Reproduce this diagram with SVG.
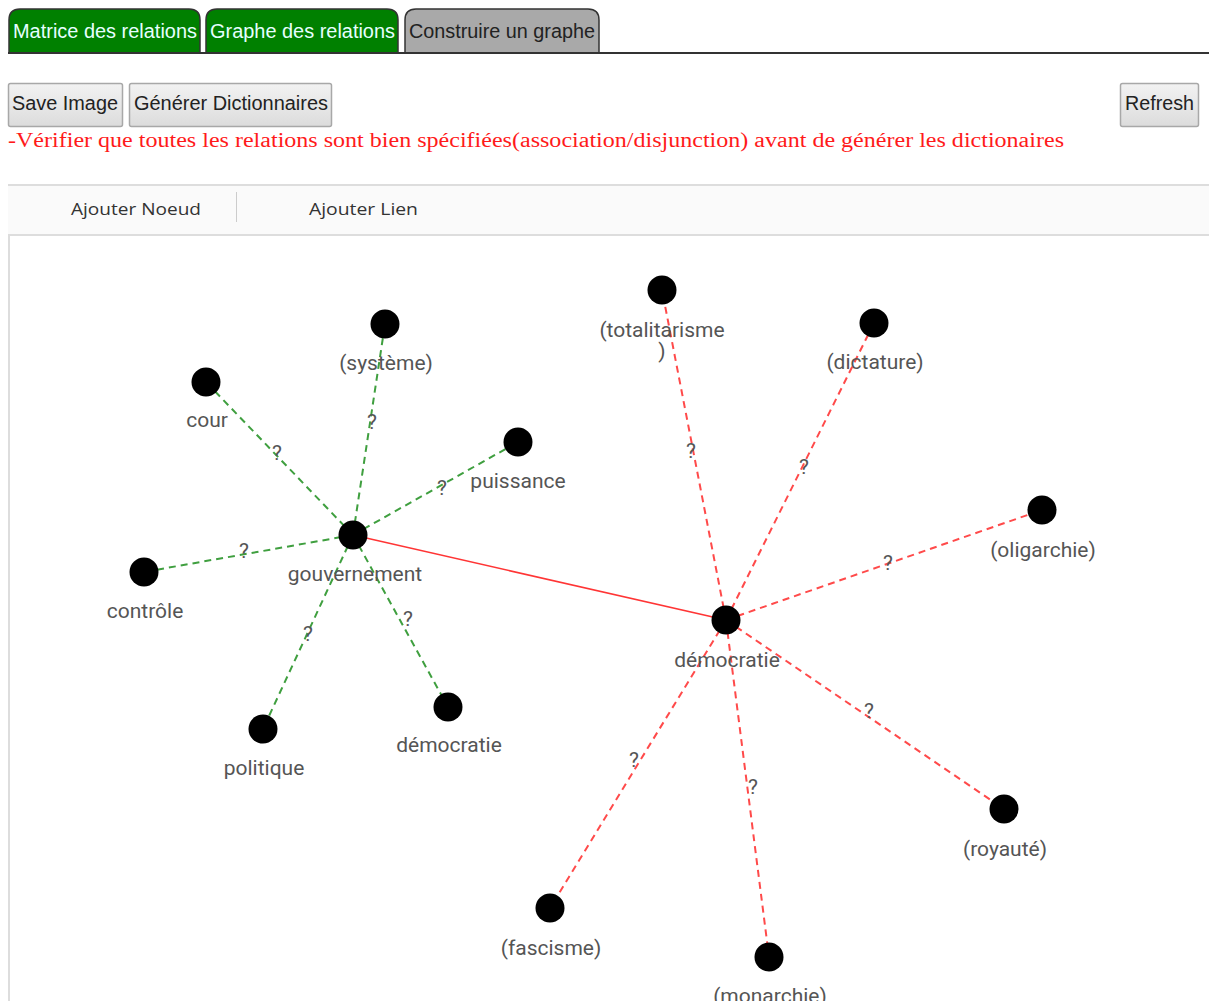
<svg xmlns="http://www.w3.org/2000/svg" width="1209" height="1001" viewBox="0 0 1209 1001">
<defs>
<linearGradient id="btn" x1="0" y1="0" x2="0" y2="1"><stop offset="0" stop-color="#f2f2f2"/><stop offset="1" stop-color="#dcdcdc"/></linearGradient>
<style>
.tab{stroke:#333;stroke-width:1.5}
.tabt{font-family:"Liberation Sans",Arial,sans-serif;font-size:19.5px}
.btn{fill:url(#btn);stroke:#a8a8a8;stroke-width:1.5}
.btnt{font-family:"Liberation Sans",Arial,sans-serif;font-size:20px;fill:#222}
.tool{font-family:"Open Sans","Noto Sans",sans-serif;font-size:17px;fill:#333}
.node circle{fill:#000}
.node text,.q{font-family:Roboto,"Liberation Sans",sans-serif;font-size:21px;fill:#555;text-anchor:middle}
.g{stroke:#3f9f3f;stroke-width:2;stroke-dasharray:7 5;fill:none}
.r{stroke:#ff4a4a;stroke-width:2;stroke-dasharray:7 5;fill:none}
.rs{stroke:#ff3535;stroke-width:1.6;fill:none}
</style>
</defs>
<rect width="1209" height="1001" fill="#fff"/>
<!-- tabs -->
<g id="tabs">
<path class="tab" d="M9,53 V20 Q9,9 20,9 H189 Q200,9 200,20 V53" fill="#008000"/>
<path class="tab" d="M206,53 V20 Q206,9 217,9 H387 Q398,9 398,20 V53" fill="#008000"/>
<path class="tab" d="M405,53 V20 Q405,9 416,9 H588 Q599,9 599,20 V53" fill="#a9a9a9"/>
<line x1="8" y1="53" x2="1209" y2="53" stroke="#333" stroke-width="2"/>
<text class="tabt" x="13" y="38" fill="#e6ffff" textLength="184" lengthAdjust="spacingAndGlyphs">Matrice des relations</text>
<text class="tabt" x="210" y="38" fill="#e6ffff" textLength="185" lengthAdjust="spacingAndGlyphs">Graphe des relations</text>
<text class="tabt" x="409" y="38" fill="#222" textLength="186" lengthAdjust="spacingAndGlyphs">Construire un graphe</text>
</g>
<!-- buttons -->
<g id="buttons">
<rect class="btn" x="8.5" y="83.5" width="114" height="43" rx="2"/>
<text class="btnt" x="12" y="110" textLength="106" lengthAdjust="spacingAndGlyphs">Save Image</text>
<rect class="btn" x="129.5" y="83.5" width="202" height="43" rx="2"/>
<text class="btnt" x="134" y="110" textLength="194" lengthAdjust="spacingAndGlyphs">Générer Dictionnaires</text>
<rect class="btn" x="1120.5" y="83.5" width="78" height="43" rx="2"/>
<text class="btnt" x="1125" y="110" textLength="69" lengthAdjust="spacingAndGlyphs">Refresh</text>
</g>
<text x="8" y="147" font-family="'Liberation Serif','Times New Roman',serif" font-size="20" fill="#ff1a1a" textLength="1056" lengthAdjust="spacingAndGlyphs">-Vérifier que toutes les relations sont bien spécifiées(association/disjunction) avant de générer les dictionaires</text>
<!-- toolbar -->
<g id="toolbar">
<rect x="8" y="185" width="1201" height="50" fill="#fafafa"/>
<line x1="8" y1="185" x2="1209" y2="185" stroke="#ddd" stroke-width="2"/>
<line x1="8" y1="235" x2="1209" y2="235" stroke="#ddd" stroke-width="2"/>
<line x1="236.5" y1="192" x2="236.5" y2="222" stroke="#ccc" stroke-width="1"/>
<text class="tool" x="71" y="215" textLength="130" lengthAdjust="spacingAndGlyphs">Ajouter Noeud</text>
<text class="tool" x="309" y="215" textLength="109" lengthAdjust="spacingAndGlyphs">Ajouter Lien</text>
</g>
<line x1="9" y1="235" x2="9" y2="1001" stroke="#ddd" stroke-width="2"/>
<!-- connectors -->
<g id="connectors">
<line class="g" x1="353" y1="535" x2="206" y2="382"/>
<line class="g" x1="353" y1="535" x2="385" y2="324"/>
<line class="g" x1="353" y1="535" x2="518" y2="442"/>
<line class="g" x1="353" y1="535" x2="144" y2="572"/>
<line class="g" x1="353" y1="535" x2="263" y2="729"/>
<line class="g" x1="353" y1="535" x2="448" y2="707"/>
<line class="rs" x1="353" y1="535" x2="726" y2="620"/>
<line class="r" x1="726" y1="620" x2="662" y2="290"/>
<line class="r" x1="726" y1="620" x2="874" y2="323"/>
<line class="r" x1="726" y1="620" x2="1042" y2="510"/>
<line class="r" x1="726" y1="620" x2="1004" y2="809"/>
<line class="r" x1="726" y1="620" x2="769" y2="957"/>
<line class="r" x1="726" y1="620" x2="550" y2="908"/>
<text class="q" x="277" y="460">?</text>
<text class="q" x="372" y="429">?</text>
<text class="q" x="442" y="495">?</text>
<text class="q" x="244" y="558">?</text>
<text class="q" x="308" y="641">?</text>
<text class="q" x="408" y="626">?</text>
<text class="q" x="691" y="458">?</text>
<text class="q" x="804" y="474">?</text>
<text class="q" x="888" y="570">?</text>
<text class="q" x="869" y="718">?</text>
<text class="q" x="753" y="794">?</text>
<text class="q" x="634" y="767">?</text>
</g>
<!-- nodes -->
<g id="n-gouvernement" class="node"><circle cx="353" cy="535" r="14.5"/><text x="355" y="581">gouvernement</text></g>
<g id="n-systeme" class="node"><circle cx="385" cy="324" r="14.5"/><text x="386" y="370">(système)</text></g>
<g id="n-cour" class="node"><circle cx="206" cy="382" r="14.5"/><text x="207" y="427">cour</text></g>
<g id="n-puissance" class="node"><circle cx="518" cy="442" r="14.5"/><text x="518" y="488">puissance</text></g>
<g id="n-controle" class="node"><circle cx="144" cy="572" r="14.5"/><text x="145" y="618">contrôle</text></g>
<g id="n-politique" class="node"><circle cx="263" cy="729" r="14.5"/><text x="264" y="775">politique</text></g>
<g id="n-democratie2" class="node"><circle cx="448" cy="707" r="14.5"/><text x="449" y="752">démocratie</text></g>
<g id="n-democratie" class="node"><circle cx="726" cy="620" r="14.5"/><text x="727" y="667">démocratie</text></g>
<g id="n-totalitarisme" class="node"><circle cx="662" cy="290" r="14.5"/><text x="662" y="337">(totalitarisme<tspan x="662" dy="21">)</tspan></text></g>
<g id="n-dictature" class="node"><circle cx="874" cy="323" r="14.5"/><text x="875" y="369">(dictature)</text></g>
<g id="n-oligarchie" class="node"><circle cx="1042" cy="510" r="14.5"/><text x="1043" y="557">(oligarchie)</text></g>
<g id="n-royaute" class="node"><circle cx="1004" cy="809" r="14.5"/><text x="1005" y="856">(royauté)</text></g>
<g id="n-monarchie" class="node"><circle cx="769" cy="957" r="14.5"/><text x="770" y="1003">(monarchie)</text></g>
<g id="n-fascisme" class="node"><circle cx="550" cy="908" r="14.5"/><text x="551" y="955">(fascisme)</text></g>
</svg>
